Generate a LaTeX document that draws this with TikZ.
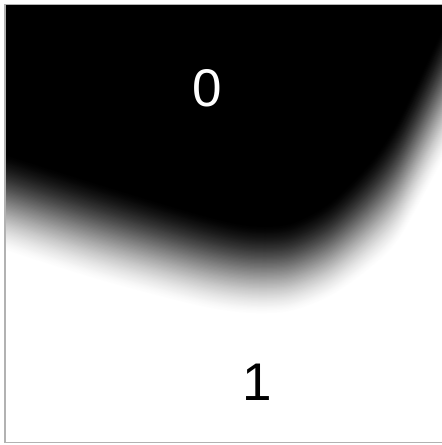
\documentclass[tikz,border=0pt]{standalone}
\usepackage{fontspec}
\setmainfont{Liberation Sans}
\tikzset{
  frame/.style={draw=black!30, line width=1.4pt},
  digit/.style={inner sep=0pt, font=\fontsize{53}{53}\selectfont},
}
\begin{document}
\begin{tikzpicture}[x=1pt,y=-1pt]
\useasboundingbox (0,0) rectangle (442,445);
\fill[white] (0,0) rectangle (442,445);
\begin{scope}
\clip (5,4.5) rectangle (446,442.5);
\foreach \i in {70,69,...,0}{
  \pgfmathsetmacro{\t}{\i/70}
  \pgfmathsetmacro{\s}{0.4*\t+0.6*(3*\t*\t-2*\t*\t*\t)}
  \pgfmathsetmacro{\p}{100*(1-\s)}
  \pgfmathsetmacro{\u}{2*\t-1}
  \fill[black!\p] plot[smooth] coordinates {
    (-2,{200+\u*48})
    (5,{203+\u*48})
    (100,{233+\u*48})
    (200,{261+\u*46})
    (250,{270+\u*44})
    (290,{268+\u*44})
    (330,{250+\u*47})
    (370,{216+\u*53})
    (400,{178+\u*60})
    (446,{88+\u*66})
  } -- (450,-5) -- (-5,-5) -- cycle;
}
\end{scope}
\draw[frame] (5,4.5) rectangle (446,442.5);
\node[digit, text=white] (zero) at (207,88) {0};
\node[digit, text=black] (one) at (257,382) {1};
\end{tikzpicture}
\end{document}
